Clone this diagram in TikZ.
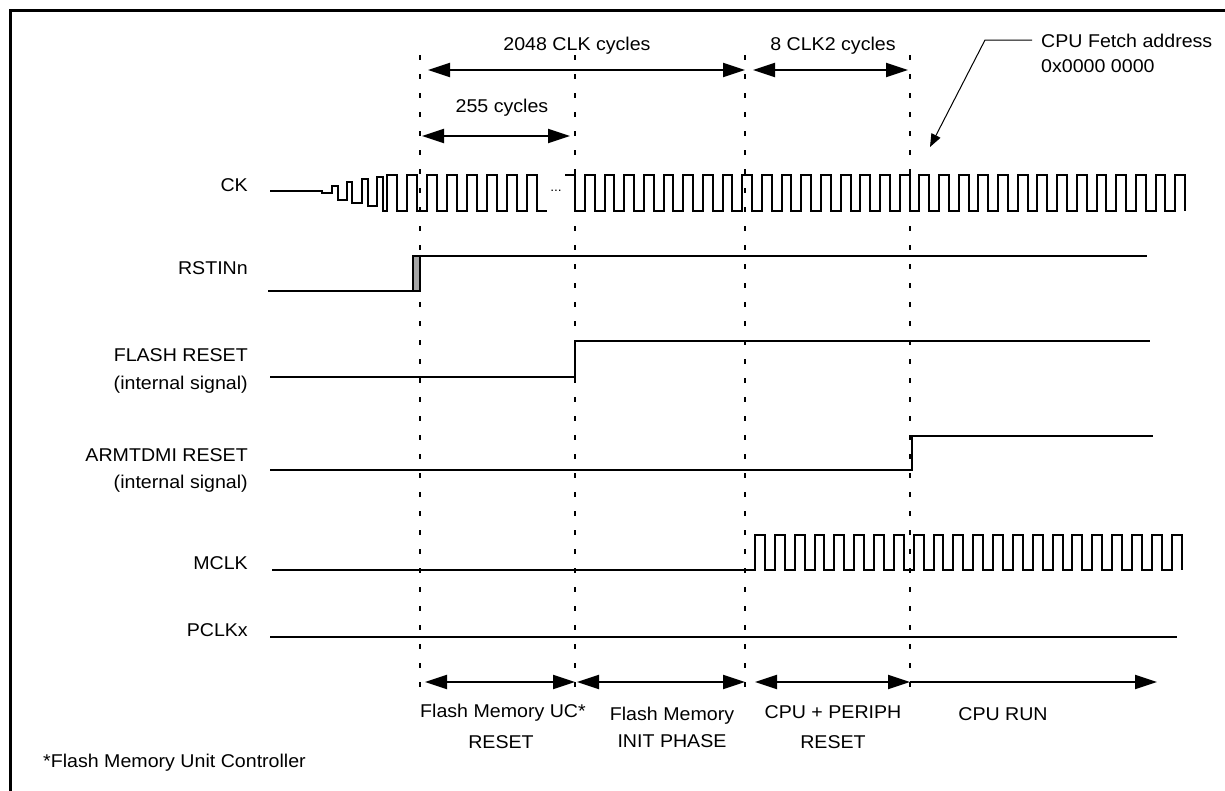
\documentclass[tikz,border=0pt]{standalone}
\usepackage{fontspec}
\setmainfont{Liberation Sans}[FakeStretch=1.06]
\usetikzlibrary{arrows.meta}
\begin{document}
\begin{tikzpicture}[x=1pt,y=-1pt,
  sig/.style={line width=2pt, line join=miter},
  guide/.style={line width=2pt, dash pattern=on 5pt off 14pt},
  tipb/.tip={Triangle[length=22pt,width=14pt]},
  span/.style={line width=2pt, tipb-tipb},
  spanr/.style={line width=2pt, -tipb},
  lbl/.style={font=\fontsize{18.5}{22}\selectfont, inner sep=0pt},
  sl/.style={lbl, anchor=base east},
  bl/.style={lbl, anchor=base},
  frame/.style={line width=3pt}
]
\useasboundingbox (0,0) rectangle (1225,790);
% frame
\draw[frame] (10,800) -- (10,10) -- (1235,10);

% dashed guides
\foreach \n/\x in {d1/420, d2/575, d3/745, d4/910}{
  \coordinate (\n t) at (\x,55);
  \coordinate (\n b) at (\x,692);
  \draw[guide] (\n t) -- (\n b);
}

% top spans
\coordinate (a1l) at (428,70); \coordinate (a1r) at (745,70);
\coordinate (a2l) at (753,70); \coordinate (a2r) at (908,70);
\coordinate (a3l) at (422,136); \coordinate (a3r) at (570,136);
\draw[span] (a1l) -- (a1r);
\draw[span] (a2l) -- (a2r);
\draw[span] (a3l) -- (a3r);
\node[bl] (t2048) at (577,50) {2048 CLK cycles};
\node[bl] (t8) at (833,50) {8 CLK2 cycles};
\node[bl] (t255) at (502,112) {255 cycles};

% CPU fetch annotation
\node[lbl, anchor=base west] (fetch1) at (1041,47) {CPU Fetch address};
\node[lbl, anchor=base west] (fetch2) at (1041,72) {0x0000 0000};
\coordinate (fk1) at (1032,40);
\coordinate (fk2) at (985,40);
\coordinate (fk3) at (930,147);
\draw[line width=1pt, -{Triangle[length=13pt,width=10pt]}] (fk1) -- (fk2) -- (fk3);

% signal labels
\node[sl] (lck) at (248,191.5) {CK};
\node[sl] (lrst) at (248,274.5) {RSTINn};
\node[sl] (lfl1) at (248,361.5) {FLASH RESET};
\node[sl] (lfl2) at (248,389.5) {(internal signal)};
\node[sl] (larm1) at (248,461.5) {ARMTDMI RESET};
\node[sl] (larm2) at (248,488.5) {(internal signal)};
\node[sl] (lmclk) at (248,569.5) {MCLK};
\node[sl] (lpclk) at (248,636.5) {PCLKx};

% CK waveform
\draw[sig] (270,191) -- (322,191) -- (322,193) -- (332,193) -- (332,186) -- (338,186)
  -- (338,200) -- (347,200) -- (347,182) -- (352,182) -- (352,203) -- (362,203)
  -- (362,179) -- (368,179) -- (368,206) -- (377,206) -- (377,177) -- (383,177)
  -- (383,211)
  foreach \k in {0,...,7}{ -- ({387+20*\k},211) -- ({387+20*\k},175) -- ({397+20*\k},175) -- ({397+20*\k},211) }
  -- (547,211);
\node[font=\fontsize{13}{13}\selectfont, inner sep=0pt] (ckdots) at (556,191) {...};
\draw[sig] (565,175)
  foreach \k in {0,...,30}{ -- ({575+19.68*\k},175) -- ({575+19.68*\k},211) -- ({584.84+19.68*\k},211) -- ({584.84+19.68*\k},175) }
  -- (1185,175) -- (1185,211);

% RSTINn
\draw[sig] (268,291) -- (413,291);
\draw[line width=1.5pt, fill=gray!70] (413,291) rectangle (420,256);
\draw[sig] (413,256) -- (1147,256);

% FLASH RESET
\draw[sig] (270,377) -- (575,377) -- (575,341) -- (1150,341);

% ARMTDMI RESET
\draw[sig] (270,470) -- (912,470) -- (912,436) -- (1153,436);

% MCLK
\draw[sig] (272,570)
  foreach \k in {0,...,21}{ -- ({755+19.84*\k},570) -- ({755+19.84*\k},535) -- ({764.92+19.84*\k},535) -- ({764.92+19.84*\k},570) };

% PCLKx
\draw[sig] (270,637) -- (1177,637);

% bottom spans
\coordinate (b1l) at (425,682); \coordinate (b1r) at (575,682);
\coordinate (b2l) at (577,682); \coordinate (b2r) at (745,682);
\coordinate (b3l) at (755,682); \coordinate (b3r) at (910,682);
\coordinate (b4l) at (910,682); \coordinate (b4r) at (1157,682);
\draw[span] (b1l) -- (b1r);
\draw[span] (b2l) -- (b2r);
\draw[span] (b3l) -- (b3r);
\draw[spanr] (b4l) -- (b4r);

\node[bl] (p1a) at (503,717) {Flash Memory UC*};
\node[bl] (p1b) at (501,748) {RESET};
\node[bl] (p2a) at (672,720) {Flash Memory};
\node[bl] (p2b) at (672,747) {INIT PHASE};
\node[bl] (p3a) at (833,718) {CPU + PERIPH};
\node[bl] (p3b) at (833,748) {RESET};
\node[bl] (p4a) at (1003,720) {CPU RUN};

\node[lbl, anchor=base west] (foot) at (43,767) {*Flash Memory Unit Controller};
\end{tikzpicture}
\end{document}
